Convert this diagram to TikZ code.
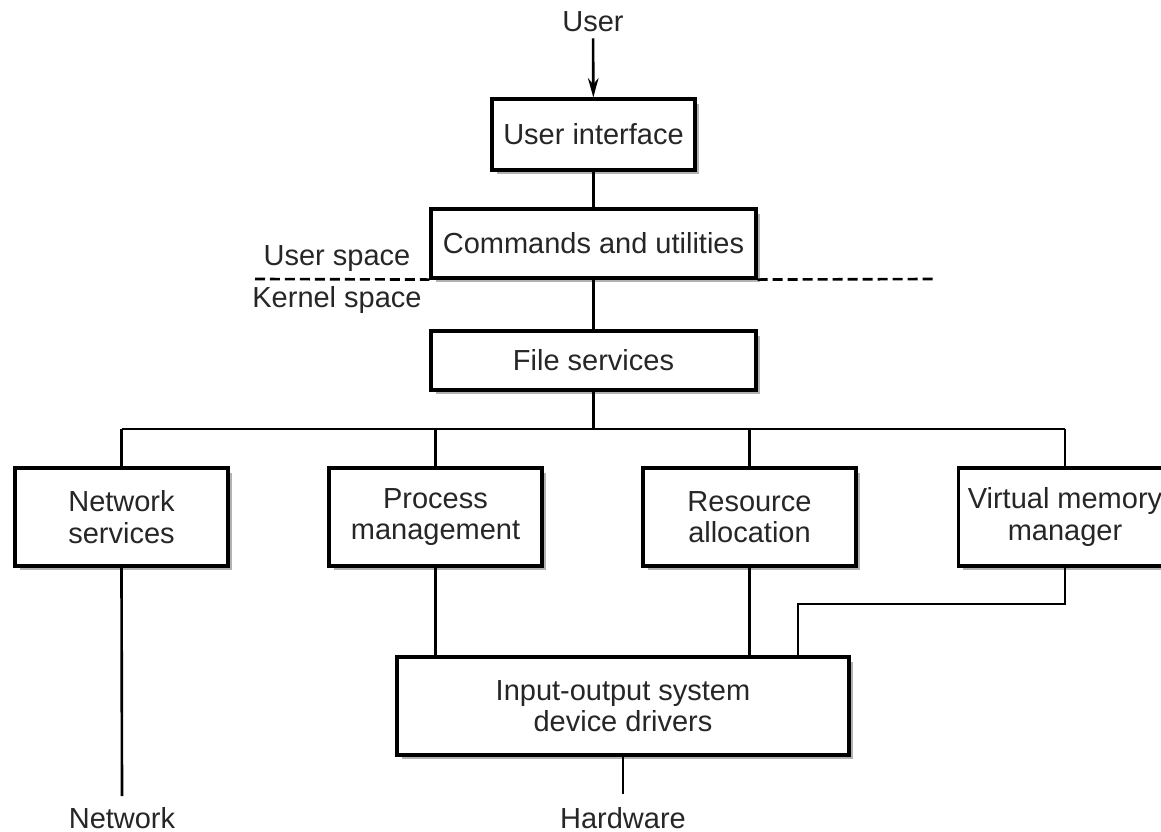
\documentclass[tikz,border=0pt]{standalone}
\usepackage{fontspec}
\setmainfont{Liberation Sans}
\usetikzlibrary{shadows,arrows.meta}

\begin{document}
\begin{tikzpicture}[
    x=0.02cm, y=-0.02cm,
    every node/.style={font=\fontsize{16.5pt}{18pt}\selectfont, text=black!85},
    layer/.style={rectangle, draw, line width=1.8pt, fill=white, align=center, inner sep=0pt,
        drop shadow={shadow xshift=0.09cm, shadow yshift=-0.09cm, opacity=1, fill=black!30}},
    wide/.style={layer, minimum width=6.5cm},
    unit/.style={layer, minimum width=4.26cm, minimum height=1.96cm},
    link/.style={line width=1.5pt}
]
\useasboundingbox (0,0) rectangle (1161,832);

% user side
\node (user) at (593,22) {User};
\node[layer, minimum width=4.06cm, minimum height=1.42cm] (ui) at (593.5,134.5) {User interface};
\node[wide, minimum height=1.38cm] (cmds) at (593.5,243.5) {Commands and utilities};
\node[anchor=base] (userspace) at (337,265) {User space};
\node[anchor=base] (kernelspace) at (337,307) {Kernel space};

% kernel side
\node[wide, minimum height=1.18cm] (files) at (593.5,360.5) {File services};
\node[unit] (netsvc) at (121.5,517) {Network\\services};
\node[unit] (procmgmt) at (435.5,517) {Process\\management};
\node[unit] (resalloc) at (749.5,517) {Resource\\allocation};
\node[unit] (vmm) at (1065,517) {Virtual memory\\manager};
\node[layer, minimum width=9.04cm, minimum height=1.96cm] (iosys) at (623,706) {Input-output system\\device drivers};

\node[anchor=base, inner sep=6pt] (network) at (122,828) {Network};
\node[anchor=base, inner sep=7pt] (hardware) at (623,828) {Hardware};

\coordinate (bus) at (0,429);
\coordinate (vmbend) at (798,604);
\coordinate (dashL) at (255,279);
\coordinate (dashR) at (935,279);

\draw[link, -{Stealth[length=11pt, width=6pt]}] (user) -- (ui);
\draw[link] (ui) -- (cmds);
\draw[link] (cmds) -- (files);
\draw[link, dashed, dash pattern=on 0.2cm off 0.1cm] (dashL) -- (cmds.south west);
\draw[link, dashed, dash pattern=on 0.2cm off 0.1cm] (cmds.south east) -- (dashR);

\draw[link] (files.south) -- (files.south |- bus);
\draw[link] (netsvc.north |- bus) -- (vmm.north |- bus);
\foreach \n in {netsvc,procmgmt,resalloc,vmm}
    \draw[link] (\n.north |- bus) -- (\n.north);

\draw[link] (procmgmt.south) -- (procmgmt.south |- iosys.north);
\draw[link] (resalloc.south) -- (resalloc.south |- iosys.north);
\draw[link] (vmm.south) |- (vmbend) -- (vmbend |- iosys.north);

\draw[link] (netsvc.south) -- (network.north);
\draw[link] (iosys.south) -- (hardware.north);

\end{tikzpicture}
\end{document}
